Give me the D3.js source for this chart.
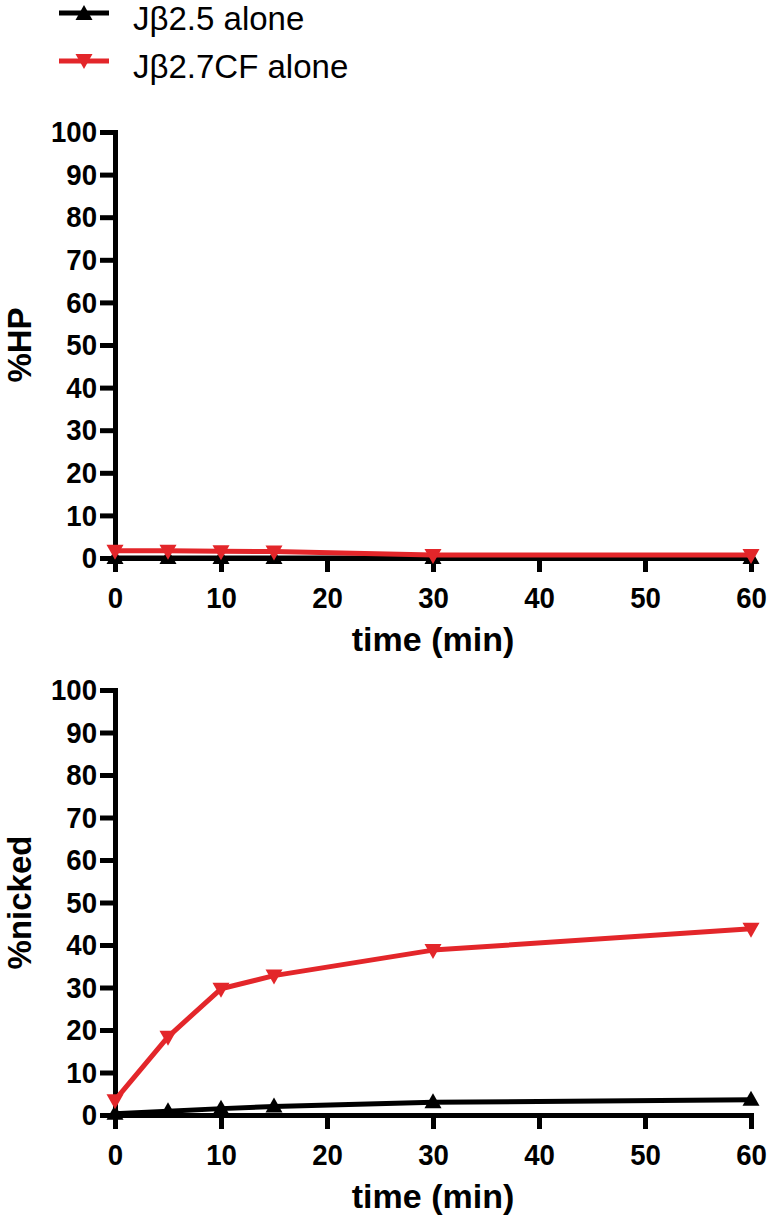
<!DOCTYPE html>
<html>
<head>
<meta charset="utf-8">
<script src="https://cdn.jsdelivr.net/npm/d3@7"></script>
<style>
  html, body { margin: 0; padding: 0; background: #fff; }
  svg { display: block; }
  text { font-family: "Liberation Sans", Arial, Helvetica, sans-serif; }
</style>
</head>
<body>
<svg id="chart" width="768" height="1217"></svg>
<script>
// sample times (min)
const times = [0, 5, 10, 15, 30, 60];

// %HP panel
const hpJb25 = [0, 0, 0, 0, 0, 0];
const hpJb27cf = [1.7, 1.7, 1.6, 1.5, 0.7, 0.7];

// %nicked panel
const nickedJb25 = [0.3, 0.9, 1.5, 2.0, 3.0, 3.6];
const nickedJb27cf = [3.5, 18.4, 29.7, 32.8, 38.8, 43.8];

const xTickValues = [0, 10, 20, 30, 40, 50, 60];
const yTickValues = [0, 10, 20, 30, 40, 50, 60, 70, 80, 90, 100];

const seriesNames = ["J\u03B22.5 alone", "J\u03B22.7CF alone"];
const seriesColors = ["#000000", "#e3262a"];

const svg = d3.select("#chart");

// triangle markers, up for black series, down for red
const upTri = "M0,-9L8.5,6L-8.5,6Z";
const downTri = "M0,9L8.5,-6L-8.5,-6Z";
const shapes = [upTri, downTri];

// tick labels look a little condensed in the original
const sx = 0.92;

// Legend
seriesNames.forEach((name, i) => {
  const y = 13 + i * 48;
  const g = svg.append("g");
  g.append("line").attr("x1", 59).attr("x2", 109).attr("y1", y).attr("y2", y)
    .attr("stroke", seriesColors[i]).attr("stroke-width", 5);
  g.append("path").attr("d", shapes[i])
    .attr("transform", `translate(84,${y + (i === 0 ? 1 : -1)})`)
    .attr("fill", seriesColors[i]);
  g.append("text").attr("x", 133).attr("y", y + 17)
    .attr("font-size", 33).attr("fill", "#000").text(name);
});

const panels = [
  { title: "%HP", top: 132, bottom: 558, data: [hpJb25, hpJb27cf] },
  { title: "%nicked", top: 690, bottom: 1115, data: [nickedJb25, nickedJb27cf] }
];

const left = 115, right = 751;

panels.forEach(p => {
  const x = d3.scaleLinear().domain([0, 60]).range([left, right]);
  const y = d3.scaleLinear().domain([0, 100]).range([p.bottom, p.top]);

  // y axis
  const ya = svg.append("g").attr("transform", `translate(${left},0)`)
    .call(d3.axisLeft(y).tickValues(yTickValues).tickSize(15).tickSizeOuter(0).tickPadding(3));
  ya.select(".domain").attr("stroke-width", 5).attr("stroke-linecap", "square");
  ya.selectAll(".tick line").attr("stroke-width", 5);
  ya.selectAll(".tick text").attr("font-size", 30).attr("font-weight", "bold")
    .attr("font-family", "'Liberation Sans', Arial, sans-serif").attr("fill", "#000")
    .attr("x", -18 / sx).attr("transform", `scale(${sx},1)`);

  // x axis
  const xa = svg.append("g").attr("transform", `translate(0,${p.bottom})`)
    .call(d3.axisBottom(x).tickValues(xTickValues).tickSize(14).tickSizeOuter(0));
  xa.select(".domain").attr("stroke-width", 5).attr("stroke-linecap", "square");
  xa.selectAll(".tick line").attr("stroke-width", 5);
  xa.selectAll(".tick text").attr("font-size", 30).attr("font-weight", "bold")
    .attr("font-family", "'Liberation Sans', Arial, sans-serif").attr("fill", "#000")
    .attr("y", 50).attr("dy", null).attr("transform", `scale(${sx},1)`);

  // axis titles
  svg.append("text").attr("transform", `translate(${(left + right) / 2},${p.bottom + 93})`)
    .attr("text-anchor", "middle").attr("font-size", 34).attr("font-weight", "bold")
    .text("time (min)");
  svg.append("text").attr("transform", `translate(31,${(p.top + p.bottom) / 2}) rotate(-90)`)
    .attr("text-anchor", "middle").attr("font-size", 33).attr("font-weight", "bold")
    .text(p.title);

  // series
  const line = d3.line().x((d, i) => x(times[i])).y(d => y(d));
  p.data.forEach((vals, i) => {
    svg.append("path").datum(vals).attr("d", line)
      .attr("fill", "none").attr("stroke", seriesColors[i]).attr("stroke-width", 5)
      .attr("stroke-linejoin", "round");
    svg.append("g").selectAll("path").data(vals).enter().append("path")
      .attr("d", shapes[i])
      .attr("transform", (d, j) => `translate(${x(times[j])},${y(d)})`)
      .attr("fill", seriesColors[i]);
  });
});
</script>
</body>
</html>
